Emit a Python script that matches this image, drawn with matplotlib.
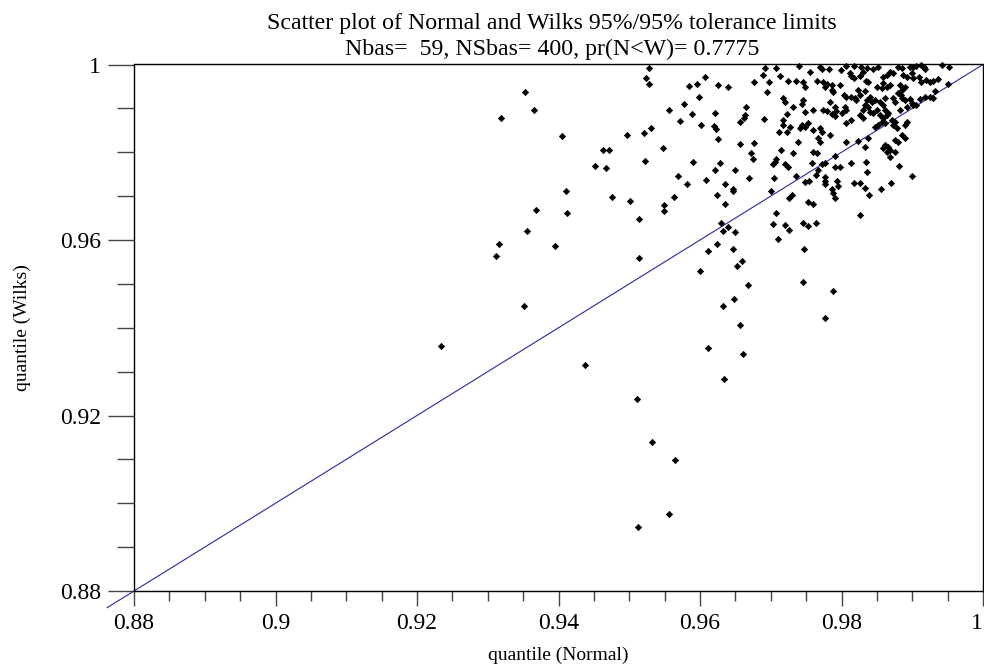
import matplotlib
matplotlib.use("Agg")
import matplotlib.pyplot as plt
import matplotlib.transforms as mtransforms
from matplotlib.ticker import MultipleLocator, FuncFormatter

# ---------------- data ----------------
# Normal-based tolerance-limit quantiles (x) and Wilks quantiles (y)
x_sparse = [0.9353, 0.9365, 0.9319, 0.9405, 0.9497, 0.9463, 0.9471, 0.9452, 0.9467, 0.9411,
            0.9476, 0.9501, 0.9368, 0.9412, 0.9514, 0.9355, 0.9316, 0.9395, 0.9311, 0.9514,
            0.9351, 0.9234, 0.9438, 0.9511, 0.9513, 0.9532, 0.9564, 0.9556]
y_sparse = [0.9937, 0.9896, 0.9877, 0.9837, 0.9839, 0.9805, 0.9805, 0.9769, 0.9764, 0.9712,
            0.9698, 0.9690, 0.9668, 0.9662, 0.9649, 0.9621, 0.9592, 0.9587, 0.9563, 0.9558,
            0.9449, 0.9358, 0.9316, 0.9238, 0.8947, 0.9140, 0.9099, 0.8976]

x_mid_upper = [0.9528, 0.9524, 0.9528, 0.9607, 0.9584, 0.9596, 0.9626, 0.9640, 0.9692, 0.9689,
               0.9708, 0.9697, 0.9676, 0.9713, 0.9694, 0.9598, 0.9578, 0.9556, 0.9589, 0.9621,
               0.9665, 0.9664, 0.9662, 0.9657, 0.9690, 0.9572, 0.9601, 0.9620, 0.9622, 0.9521,
               0.9531, 0.9626, 0.9711, 0.9548, 0.9656, 0.9676, 0.9672, 0.9675, 0.9522, 0.9590,
               0.9628, 0.9708, 0.9706, 0.9703, 0.9621, 0.9649, 0.9569, 0.9608, 0.9669, 0.9704,
               0.9581, 0.9635, 0.9647, 0.9647, 0.9701, 0.9563, 0.9624]
y_mid_upper = [0.9991, 0.9969, 0.9955, 0.9972, 0.9952, 0.9956, 0.9954, 0.9949, 0.9991, 0.9977,
               0.9991, 0.9960, 0.9959, 0.9973, 0.9937, 0.9926, 0.9910, 0.9897, 0.9888, 0.9889,
               0.9902, 0.9885, 0.9877, 0.9868, 0.9875, 0.9871, 0.9863, 0.9860, 0.9853, 0.9845,
               0.9855, 0.9830, 0.9847, 0.9810, 0.9819, 0.9820, 0.9799, 0.9784, 0.9781, 0.9778,
               0.9776, 0.9785, 0.9778, 0.9773, 0.9760, 0.9760, 0.9746, 0.9737, 0.9741, 0.9741,
               0.9728, 0.9728, 0.9717, 0.9712, 0.9712, 0.9697, 0.9702]

x_mid_lower = [0.9549, 0.9549, 0.9635, 0.9707, 0.9703, 0.9710, 0.9629, 0.9633, 0.9639, 0.9650,
               0.9624, 0.9611, 0.9647, 0.9660, 0.9653, 0.9600, 0.9668, 0.9648, 0.9632, 0.9657,
               0.9611, 0.9661, 0.9634, 0.9745, 0.9788, 0.9776, 0.9881, 0.9899, 0.9870, 0.9856]
y_mid_lower = [0.9680, 0.9666, 0.9681, 0.9661, 0.9636, 0.9602, 0.9639, 0.9621, 0.9629, 0.9619,
               0.9590, 0.9576, 0.9579, 0.9553, 0.9541, 0.9529, 0.9498, 0.9466, 0.9450, 0.9406,
               0.9353, 0.9341, 0.9283, 0.9504, 0.9484, 0.9423, 0.9769, 0.9747, 0.9731, 0.9716]

x_band = [0.9720, 0.9724, 0.9758, 0.9773, 0.9777, 0.9767, 0.9764, 0.9791, 0.9798, 0.9813,
          0.9835, 0.9836, 0.9736, 0.9776, 0.9776, 0.9776, 0.9748, 0.9754, 0.9793, 0.9795,
          0.9818, 0.9826, 0.9833, 0.9839, 0.9786, 0.9788, 0.9791, 0.9730, 0.9726, 0.9753,
          0.9760, 0.9826, 0.9720, 0.9726, 0.9746, 0.9752, 0.9764, 0.9747]
y_band = [0.9773, 0.9767, 0.9775, 0.9773, 0.9776, 0.9760, 0.9748, 0.9767, 0.9766, 0.9775,
          0.9778, 0.9754, 0.9746, 0.9744, 0.9735, 0.9728, 0.9732, 0.9734, 0.9735, 0.9723,
          0.9729, 0.9729, 0.9718, 0.9703, 0.9716, 0.9706, 0.9695, 0.9703, 0.9695, 0.9687,
          0.9682, 0.9656, 0.9634, 0.9622, 0.9638, 0.9632, 0.9638, 0.9579]

x_dense_a = [0.9740, 0.9769, 0.9772, 0.9783, 0.9799, 0.9807, 0.9817, 0.9828, 0.9831, 0.9836,
             0.9845, 0.9852, 0.9755, 0.9725, 0.9735, 0.9746, 0.9748, 0.9766, 0.9774, 0.9779,
             0.9776, 0.9786, 0.9787, 0.9788, 0.9798, 0.9812, 0.9814, 0.9817, 0.9826, 0.9834,
             0.9838, 0.9823, 0.9833, 0.9850, 0.9717, 0.9720, 0.9746, 0.9744, 0.9732, 0.9760,
             0.9723, 0.9748, 0.9784, 0.9791, 0.9792, 0.9803, 0.9807, 0.9814, 0.9819, 0.9821,
             0.9826, 0.9840, 0.9836, 0.9843, 0.9847, 0.9833, 0.9838, 0.9831, 0.9840, 0.9850,
             0.9805, 0.9807, 0.9774, 0.9780, 0.9786, 0.9791, 0.9800, 0.9807, 0.9813, 0.9826,
             0.9831, 0.9845, 0.9717, 0.9718, 0.9744, 0.9741, 0.9748, 0.9753, 0.9760, 0.9770,
             0.9772, 0.9784, 0.9727, 0.9723, 0.9739, 0.9767, 0.9770, 0.9807, 0.9824, 0.9847,
             0.9852, 0.9838, 0.9715, 0.9732, 0.9760, 0.9765, 0.9791, 0.9833]
y_dense_a = [0.9997, 0.9995, 0.9989, 0.9989, 0.9987, 0.9997, 0.9997, 0.9994, 0.9984, 0.9991,
             0.9989, 0.9995, 0.9984, 0.9963, 0.9963, 0.9959, 0.9949, 0.9963, 0.9959, 0.9956,
             0.9949, 0.9953, 0.9943, 0.9938, 0.9953, 0.9980, 0.9974, 0.9969, 0.9974, 0.9963,
             0.9959, 0.9942, 0.9940, 0.9949, 0.9923, 0.9915, 0.9919, 0.9910, 0.9904, 0.9896,
             0.9887, 0.9892, 0.9915, 0.9904, 0.9895, 0.9930, 0.9927, 0.9925, 0.9923, 0.9919,
             0.9930, 0.9927, 0.9919, 0.9915, 0.9919, 0.9908, 0.9904, 0.9896, 0.9892, 0.9896,
             0.9904, 0.9896, 0.9896, 0.9895, 0.9887, 0.9883, 0.9889, 0.9866, 0.9874, 0.9885,
             0.9877, 0.9889, 0.9874, 0.9862, 0.9862, 0.9855, 0.9858, 0.9866, 0.9851, 0.9855,
             0.9847, 0.9839, 0.9858, 0.9847, 0.9824, 0.9832, 0.9824, 0.9824, 0.9826, 0.9858,
             0.9862, 0.9832, 0.9804, 0.9798, 0.9801, 0.9798, 0.9791, 0.9813]

x_dense_b = [0.9880, 0.9885, 0.9897, 0.9901, 0.9906, 0.9913, 0.9916, 0.9918, 0.9942, 0.9952,
             0.9869, 0.9873, 0.9864, 0.9859, 0.9887, 0.9892, 0.9899, 0.9901, 0.9909, 0.9913,
             0.9920, 0.9925, 0.9930, 0.9937, 0.9883, 0.9890, 0.9885, 0.9859, 0.9864, 0.9857,
             0.9869, 0.9951, 0.9932, 0.9880, 0.9884, 0.9885, 0.9890, 0.9861, 0.9873, 0.9876,
             0.9897, 0.9899, 0.9901, 0.9911, 0.9918, 0.9925, 0.9929, 0.9854, 0.9859, 0.9861,
             0.9866, 0.9864, 0.9892, 0.9883, 0.9906, 0.9854, 0.9859, 0.9857, 0.9861, 0.9871,
             0.9876, 0.9873, 0.9878, 0.9892, 0.9890, 0.9885, 0.9890, 0.9876, 0.9880, 0.9861,
             0.9866, 0.9859, 0.9864, 0.9869, 0.9876, 0.9869]
y_dense_b = [0.9995, 0.9991, 0.9995, 0.9994, 0.9997, 0.9999, 0.9994, 0.9989, 0.9999, 0.9995,
             0.9984, 0.9980, 0.9976, 0.9972, 0.9976, 0.9972, 0.9980, 0.9969, 0.9972, 0.9961,
             0.9965, 0.9959, 0.9963, 0.9966, 0.9953, 0.9949, 0.9942, 0.9957, 0.9949, 0.9946,
             0.9953, 0.9956, 0.9940, 0.9936, 0.9930, 0.9923, 0.9919, 0.9923, 0.9923, 0.9915,
             0.9921, 0.9913, 0.9908, 0.9921, 0.9927, 0.9927, 0.9923, 0.9915, 0.9908, 0.9896,
             0.9889, 0.9885, 0.9904, 0.9896, 0.9908, 0.9885, 0.9877, 0.9870, 0.9866, 0.9874,
             0.9870, 0.9862, 0.9855, 0.9870, 0.9862, 0.9839, 0.9832, 0.9828, 0.9824, 0.9817,
             0.9813, 0.9809, 0.9801, 0.9805, 0.9801, 0.9790]

x_normal = x_sparse + x_mid_upper + x_mid_lower + x_band + x_dense_a + x_dense_b
y_wilks = y_sparse + y_mid_upper + y_mid_lower + y_band + y_dense_a + y_dense_b

diag = [0.8762, 1.0]          # y = x reference line
axis_min, axis_max = 0.88, 1.0

title_line1 = "Scatter plot of Normal and Wilks 95%/95% tolerance limits"
title_line2 = "Nbas=  59, NSbas= 400, pr(N<W)= 0.7775"
xlabel = "quantile (Normal)"
ylabel = "quantile (Wilks)"

# ---------------- figure ----------------
plt.rcParams['font.family'] = ['Liberation Serif', 'DejaVu Serif']
W, H = 984, 670
fig = plt.figure(figsize=(W / 100, H / 100), dpi=100)
ax = fig.add_axes([134 / W, 1 - 591 / H, 849 / W, 526.5 / H])

ax.plot(diag, diag, color='#2a2aa0', lw=0.8, clip_on=False, zorder=2)
ax.plot(x_normal, y_wilks, linestyle='none', marker='D', markersize=3.2,
        markerfacecolor='black', markeredgecolor='black', markeredgewidth=0.5,
        clip_on=False, zorder=3)

ax.set_xlim(axis_min, axis_max)
ax.set_ylim(axis_min, axis_max)

fmt = FuncFormatter(lambda v, p: ('%g' % round(v, 4)))
ax.xaxis.set_major_locator(MultipleLocator(0.02))
ax.xaxis.set_minor_locator(MultipleLocator(0.005))
ax.yaxis.set_major_locator(MultipleLocator(0.04))
ax.yaxis.set_minor_locator(MultipleLocator(0.01))
ax.xaxis.set_major_formatter(fmt)
ax.yaxis.set_major_formatter(fmt)

ax.tick_params(axis='x', which='major', direction='out', length=11, width=1.0,
               color='#444444', labelsize=17, pad=5)
ax.tick_params(axis='x', which='minor', direction='out', length=7, width=1.0,
               color='#444444')
ax.tick_params(axis='y', which='major', direction='out', length=19, width=1.0,
               color='#444444', labelsize=17, pad=5)
ax.tick_params(axis='y', which='minor', direction='out', length=12, width=1.0,
               color='#444444')

for s in ax.spines.values():
    s.set_linewidth(1.0)
    s.set_color('black')

ax.set_xlabel(xlabel, fontsize=14)
ax.xaxis.label.set_va('center')
ax.xaxis.set_label_coords(0.5, (591 - 655) / 526.5)
ax.set_ylabel(ylabel, fontsize=14)
ax.yaxis.label.set_va('center')
ax.yaxis.set_label_coords((22 - 134) / 849, 0.5)

fig.text(552 / W, 1 - 29 / H, title_line1, ha='center', va='baseline', fontsize=17.2)
fig.text(552 / W, 1 - 55 / H, title_line2, ha='center', va='baseline', fontsize=17.2)

# keep the last x tick label ("1") inside the image edge
fig.canvas.draw()
last_tick = ax.xaxis.get_major_ticks()[-1]
for t in ax.xaxis.get_major_ticks():
    if abs(t.get_loc() - axis_max) < 1e-9:
        last_tick = t
shift = mtransforms.ScaledTranslation(-6 / 100, 0, fig.dpi_scale_trans)
last_tick.label1.set_transform(last_tick.label1.get_transform() + shift)

fig.savefig('out.png', dpi=100)
